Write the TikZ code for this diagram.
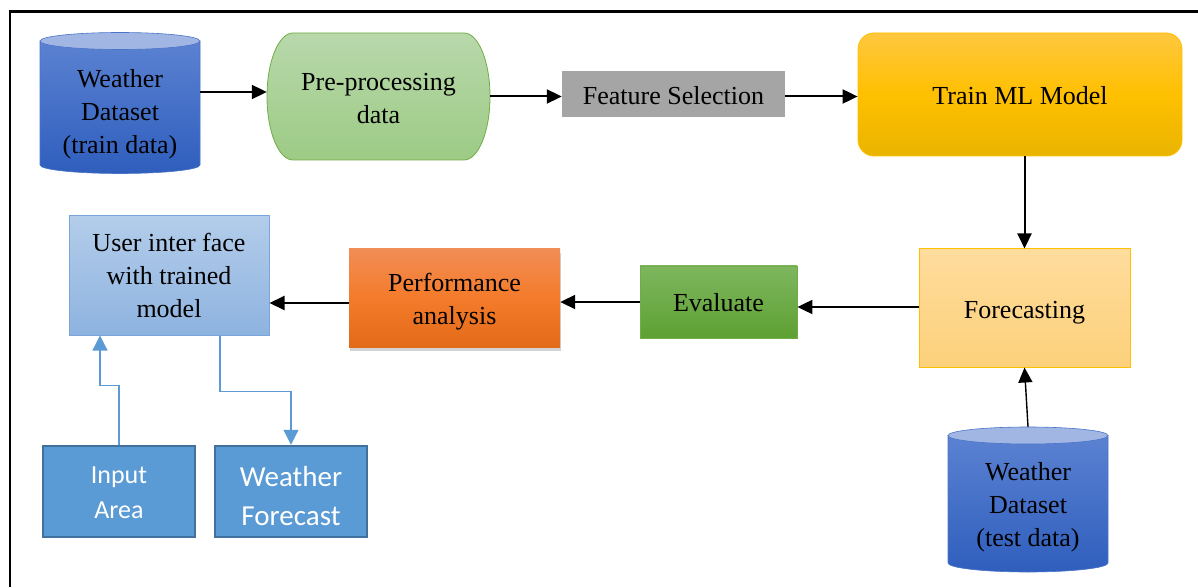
\documentclass[tikz,border=0pt]{standalone}
\usepackage{fontspec}
\setmainfont{Liberation Serif}
\newfontfamily\calib{Carlito}
\usetikzlibrary{arrows.meta,shadows}
\definecolor{cylT}{HTML}{5B82D2}
\definecolor{cylB}{HTML}{2F5EBD}
\definecolor{cylTop}{HTML}{A1B6E3}
\definecolor{cylE}{HTML}{4A74C8}
\definecolor{preT}{HTML}{B8D8AB}
\definecolor{preB}{HTML}{9DCB85}
\definecolor{preE}{HTML}{70AD47}
\definecolor{featC}{HTML}{A5A5A5}
\definecolor{trT}{HTML}{FFC73F}
\definecolor{trM}{HTML}{FFC000}
\definecolor{trB}{HTML}{E9B400}
\definecolor{fcT}{HTML}{FEDC9C}
\definecolor{fcB}{HTML}{FDD17B}
\definecolor{evT}{HTML}{7EB75F}
\definecolor{evB}{HTML}{5EA032}
\definecolor{pfT}{HTML}{F18D55}
\definecolor{pfM}{HTML}{F47B2A}
\definecolor{pfB}{HTML}{E36A17}
\definecolor{uiT}{HTML}{B3CDEA}
\definecolor{uiB}{HTML}{8EB3E0}
\definecolor{uiE}{HTML}{7AA6DC}
\definecolor{bfill}{HTML}{5B9BD5}
\definecolor{bedge}{HTML}{41719C}
\begin{document}
\begin{tikzpicture}[x=1pt,y=1pt,
  mtxt/.style={font=\fontsize{26}{33}\selectfont, align=center, text=black, inner sep=0pt},
  txt/.style={mtxt, execute at begin node={\rule{0pt}{29pt}}, execute at end node={\rule[-9pt]{0pt}{9pt}}},
  txtlow/.style={txt, execute at begin node={\rule{0pt}{31pt}}},
  bluebox/.style={fill=bfill, draw=bedge, line width=2.5pt, text=white, align=center, inner sep=0pt, minimum width=152pt, minimum height=91pt},
  arr/.style={line width=2pt, -{Triangle[length=15pt,width=14pt]}},
  arrthin/.style={line width=1.4pt, -{Triangle[length=15pt,width=14pt]}},
  barr/.style={draw=bfill, line width=1.2pt, -{Triangle[length=15pt,width=15pt]}}]
\useasboundingbox (0,0) rectangle (1198,587);
% frame
\draw[line width=2.5pt] (10,0) -- (10,575.5) -- (1198,575.5);
% cylinder 1
\shadedraw[top color=cylT, bottom color=cylB, draw=cylE, line width=0.6pt]
  (40,546) -- (40,422) arc[start angle=180,end angle=360,x radius=80,y radius=8.5] -- (200,546) -- cycle;
\filldraw[fill=cylTop, draw=cylE, line width=0.6pt] (120,546) ellipse[x radius=80, y radius=8.5];
\node[mtxt, minimum width=160pt, minimum height=156pt] (cyl1) at (120,476.5) {\rule{0pt}{25pt}Weather\\Dataset\\(train data)};
% cylinder 2
\shadedraw[top color=cylT, bottom color=cylB, draw=cylE, line width=0.6pt]
  (948,151.5) -- (948,24) arc[start angle=180,end angle=360,x radius=80,y radius=9] -- (1108,151.5) -- cycle;
\filldraw[fill=cylTop, draw=cylE, line width=0.6pt] (1028,151.5) ellipse[x radius=80, y radius=8.5];
\node[mtxt, minimum width=160pt, minimum height=156pt] (cyl2) at (1028,82) {\rule{0pt}{22pt}Weather\\Dataset\\(test data)};
% pre-processing
\shadedraw[top color=preT, bottom color=preB, draw=preE, line width=0.8pt]
  (293,554) -- (464,554) .. controls (478.4,554) and (490,525.6) .. (490,490.5)
  .. controls (490,455.4) and (478.4,427) .. (464,427) -- (293,427)
  .. controls (278.6,427) and (267,455.4) .. (267,490.5)
  .. controls (267,525.6) and (278.6,554) .. (293,554) -- cycle;
\node[mtxt, minimum width=223pt, minimum height=127pt] (pre) at (378.5,490.5) {\rule{0pt}{22pt}Pre-processing\\data};
% feature selection
\node[txtlow, fill=featC, minimum width=223pt, minimum height=46pt] (feat) at (673.5,493) {Feature Selection};
% train
\node[txt, top color=trT, bottom color=trB, middle color=trM, draw=trM, line width=0.8pt, rounded corners=16pt,
  minimum width=324pt, minimum height=123pt] (train) at (1020,492.5) {Train ML Model};
% forecasting
\node[txt, top color=fcT, bottom color=fcB, draw=trM, line width=1pt,
  minimum width=211pt, minimum height=118pt] (fc) at (1024.5,279) {Forecasting};
% evaluate
\node[mtxt, execute at begin node={\rule{0pt}{27pt}}, execute at end node={\rule[-9pt]{0pt}{9pt}},
  top color=evT, bottom color=evB, draw=preE, line width=0.8pt,
  minimum width=157pt, minimum height=72pt] (ev) at (718.5,285) {Evaluate};
% performance
\node[mtxt, top color=pfT, bottom color=pfB, middle color=pfM,
  drop shadow={opacity=0.35, shadow xshift=1pt, shadow yshift=-4pt},
  minimum width=211pt, minimum height=98pt] (perf) at (454.5,289) {\rule{0pt}{26pt}Performance\\analysis};
% user interface
\node[mtxt, top color=uiT, bottom color=uiB, draw=uiE, line width=1pt,
  minimum width=200pt, minimum height=119pt] (ui) at (169,311.5) {User inter face\\with trained\\model};
% blue boxes
\node[bluebox, font=\calib\fontsize{26}{35}\selectfont] (inp) at (119,95.5) {\rule{0pt}{20pt}Input\\Area};
\node[bluebox, font=\calib\fontsize{29}{39}\selectfont] (wf) at (291,95.5) {\rule{0pt}{30pt}Weather\\Forecast};
% connectors
\draw[arr] ([yshift=18.5pt]cyl1.east) -- ([yshift=18.5pt]cyl1.east -| pre.west);
\draw[arr] (pre.east) -- (pre.east -| feat.west);
\draw[arr] (feat.east |- pre.east) -- (pre.east -| train.west);
\draw[arr] (fc.north |- train.south) -- (fc.north);
\draw[arrthin] (cyl2.north) -- (fc.south);
\draw[arr] ([yshift=1pt]fc.west) -- ([yshift=1pt]fc.west -| ev.east);
\draw[arr] (ev.west) -- (ev.west -| perf.east);
\draw[arr] ([yshift=-5pt]perf.west) -- ([yshift=-5pt]perf.west -| ui.east);
\draw[barr] (inp.north) -- ++(0,59) -| ([xshift=-69pt]ui.south);
\draw[barr] ([xshift=51pt]ui.south) -- ++(0,-56) -| (wf.north);
\end{tikzpicture}
\end{document}
